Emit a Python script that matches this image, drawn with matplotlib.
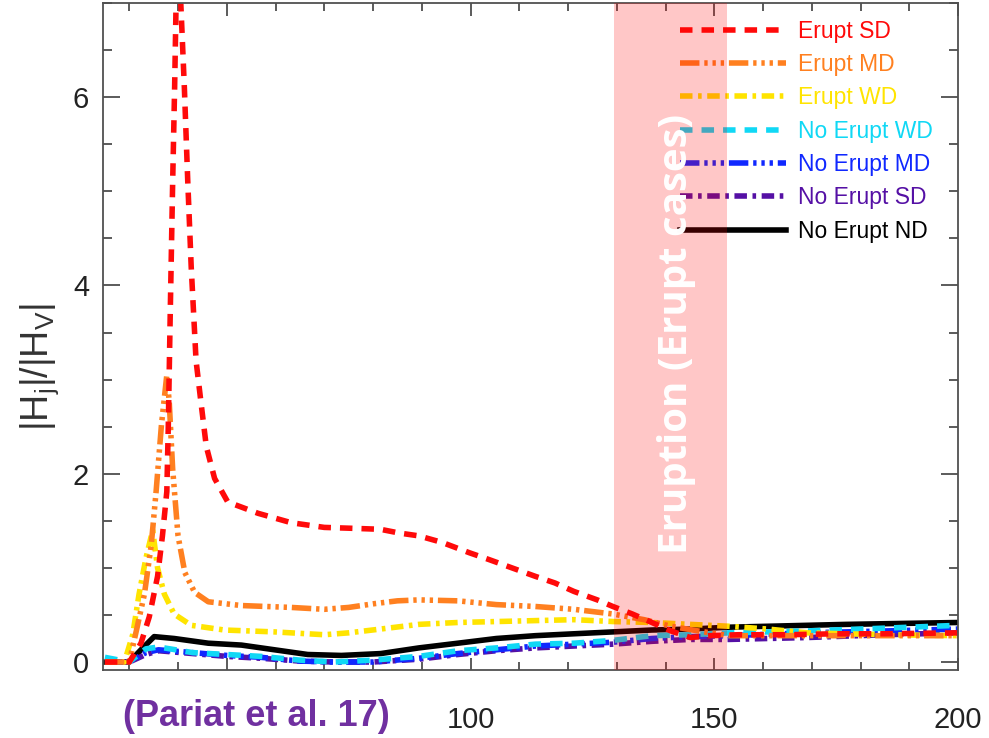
import matplotlib
matplotlib.use("Agg")
import matplotlib.pyplot as plt
from matplotlib.ticker import MultipleLocator

plt.rcParams['font.family'] = ['Liberation Sans', 'DejaVu Sans']
plt.rcParams['mathtext.default'] = 'regular'
plt.rcParams['lines.scale_dashes'] = False

# Helicity ratio |Hj|/|Hv| versus time for the seven runs
t_erupt_sd = [25, 30, 32.4, 34.1, 35.8, 36.8, 37.7, 38.0, 38.4, 38.9, 39.3, 39.8, 40.4,
              41.3, 42.0, 42.7, 43.7, 44.7, 45.8, 47.5, 50.2, 56.4, 63.2, 70, 76, 81.5,
              85.4, 89.4, 94.2, 99.8, 103.7, 108.5, 113.3, 117.3, 121.2, 126, 129.2,
              133.2, 137.2, 141.1, 145.1, 149.1, 155, 165, 175, 185, 200]
h_erupt_sd = [0, 0, 0.2, 0.48, 0.91, 1.34, 1.81, 2.5, 3.7, 5.1, 6.1, 7.6, 7.2,
              6.1, 5.1, 4.2, 3.2, 2.76, 2.29, 1.95, 1.7, 1.58, 1.48, 1.43, 1.42, 1.41,
              1.37, 1.34, 1.27, 1.16, 1.09, 1.0, 0.91, 0.84, 0.75, 0.66, 0.59,
              0.51, 0.42, 0.33, 0.26, 0.28, 0.29, 0.29, 0.30, 0.30, 0.31]

t_erupt_md = [25, 30, 31.7, 33.1, 34.5, 35.5, 36.6, 37.7, 38.2, 38.9, 40.0, 41.4, 43.4,
              46.2, 53, 63.2, 70, 75, 80.3, 85, 89.4, 97.4, 105.3, 113.3, 121.2, 129.2,
              135.6, 141.1, 146.7, 153, 165, 180, 200]
h_erupt_md = [0, 0, 0.39, 0.72, 1.24, 1.81, 2.52, 3.05, 2.76, 2.05, 1.34, 0.95, 0.74,
              0.64, 0.60, 0.58, 0.56, 0.58, 0.62, 0.65, 0.66, 0.65, 0.61, 0.59, 0.56, 0.51,
              0.45, 0.38, 0.33, 0.28, 0.28, 0.28, 0.28]

t_erupt_wd = [25, 29, 30.7, 32, 33.4, 34.8, 35.8, 37.2, 39.2, 42.7, 49.5, 59.8, 70, 75,
              81.5, 89.4, 97.4, 105.3, 113.3, 121.2, 129.2, 137.2, 145.1, 153, 161, 169,
              185, 200]
h_erupt_wd = [0, 0, 0.29, 0.72, 1.1, 1.4, 1.0, 0.72, 0.51, 0.39, 0.34, 0.32, 0.29, 0.31,
              0.35, 0.40, 0.42, 0.43, 0.44, 0.45, 0.43, 0.42, 0.40, 0.38, 0.35, 0.31,
              0.29, 0.28]

t_noerupt = [25, 30, 33.4, 36, 43, 50, 57, 65, 72, 80, 89.4, 97.4, 105.3, 113.3, 121.2,
             129.2, 137.2, 145.1, 153, 169, 185, 200]
h_noerupt_wd = [0.05, 0.0, 0.14, 0.16, 0.1, 0.08, 0.06, 0.02, 0.0, 0.02, 0.06, 0.12, 0.15,
                0.19, 0.2, 0.23, 0.28, 0.29, 0.31, 0.33, 0.36, 0.39]
h_noerupt_md = [0, 0, 0.1, 0.13, 0.1, 0.07, 0.05, 0.01, 0.0, 0.0, 0.04, 0.09, 0.13,
                0.17, 0.19, 0.21, 0.25, 0.27, 0.28, 0.31, 0.33, 0.35]
h_noerupt_sd = [0, 0, 0.08, 0.12, 0.09, 0.06, 0.04, 0.01, 0.0, 0.0, 0.03, 0.08, 0.12,
                0.15, 0.17, 0.19, 0.22, 0.24, 0.24, 0.26, 0.29, 0.31]

t_noerupt_nd = [25, 30, 32.4, 35.1, 39.2, 46.2, 53, 59.8, 66.6, 73.5, 81.6, 89.4, 97.4,
                105.3, 113.3, 121.2, 129.2, 137.2, 145.1, 153, 161, 177, 200]
h_noerupt_nd = [0, 0, 0.13, 0.27, 0.25, 0.2, 0.18, 0.13, 0.08, 0.07, 0.09, 0.15, 0.2,
                0.25, 0.28, 0.30, 0.32, 0.34, 0.35, 0.37, 0.38, 0.40, 0.42]

eruption_window = (129.5, 152.7)
xtick_values = [50, 100, 150, 200]
xtick_labels = ['', '100', '150', '200']
ytick_values = [0, 2, 4, 6]

dashed = (0, (9, 6.5))
dash3dot = (0, (14, 3.5, 2.4, 3.5, 2.4, 3.5, 2.4, 3.5))
dashdot = (0, (9, 4, 2.6, 4))
lw = 4.0

fig = plt.figure(figsize=(9.89, 7.38), dpi=100)
ax = fig.add_axes([0.1041, 0.0921, 0.8646, 0.9038])

l_nd, = ax.plot(t_noerupt_nd, h_noerupt_nd, color='black', lw=lw, ls='-', label='No Erupt ND')
l_nsd, = ax.plot(t_noerupt, h_noerupt_sd, color='#5510a5', lw=lw, ls=dashdot, label='No Erupt SD')
l_nmd, = ax.plot(t_noerupt, h_noerupt_md, color='#1028ff', lw=lw, ls=dash3dot, label='No Erupt MD')
l_nwd, = ax.plot(t_noerupt, h_noerupt_wd, color='#10d8f5', lw=lw, ls=dashed, label='No Erupt WD')
l_wd, = ax.plot(t_erupt_wd, h_erupt_wd, color='#ffe400', lw=lw, ls=dashdot, label='Erupt WD')
l_md, = ax.plot(t_erupt_md, h_erupt_md, color='#ff8020', lw=lw, ls=dash3dot, label='Erupt MD')
l_sd, = ax.plot(t_erupt_sd, h_erupt_sd, color='#ff0a0a', lw=lw, ls=dashed, label='Erupt SD')

ax.set_xlim(24.6, 200)
ax.set_ylim(-0.085, 7.0)

ax.set_xticks(xtick_values)
ax.set_xticklabels(xtick_labels)
ax.set_yticks(ytick_values)
ax.xaxis.set_minor_locator(MultipleLocator(10))
ax.yaxis.set_minor_locator(MultipleLocator(0.5))

ax.tick_params(which='both', direction='in', top=True, right=True, colors='#404040',
               labelcolor='#222222', labelsize=21, width=1.2)
ax.tick_params(axis='x', which='major', length=9, pad=26)
ax.tick_params(axis='x', which='minor', length=6)
ax.tick_params(axis='y', which='major', length=12, pad=10)
ax.tick_params(axis='y', which='minor', length=6.5)
for sp in ax.spines.values():
    sp.set_color('#505050')
    sp.set_linewidth(1.3)

fig.text(40 / 989, 1 - 367 / 738, '|H$_j$|/|H$_V$|', rotation=90, ha='center', va='center',
         fontsize=27, color='#333333')

leg = ax.legend(handles=[l_sd, l_md, l_wd, l_nwd, l_nmd, l_nsd, l_nd],
                loc='upper right', bbox_to_anchor=(0.995, 1.006), frameon=False,
                fontsize=16.5, handlelength=4.6, handletextpad=0.55,
                labelspacing=0.45, labelcolor='linecolor')

# shaded eruption window, laid over curves and legend
ax.axvspan(*eruption_window, color='red', alpha=0.22, lw=0, zorder=6)
ax.text(142.2, 3.48, 'Eruption (Erupt cases)', rotation=90, ha='center', va='center',
        color='white', fontsize=29, fontweight='bold', family=['Open Sans', 'DejaVu Sans'],
        zorder=7)

fig.text(0.259, 0.0285, '(Pariat et al. 17)', ha='center', va='center', color='#7030a0',
         fontsize=26, fontweight='bold', family=['Liberation Sans Narrow', 'Liberation Sans'])

fig.savefig('out.png', dpi=100)
